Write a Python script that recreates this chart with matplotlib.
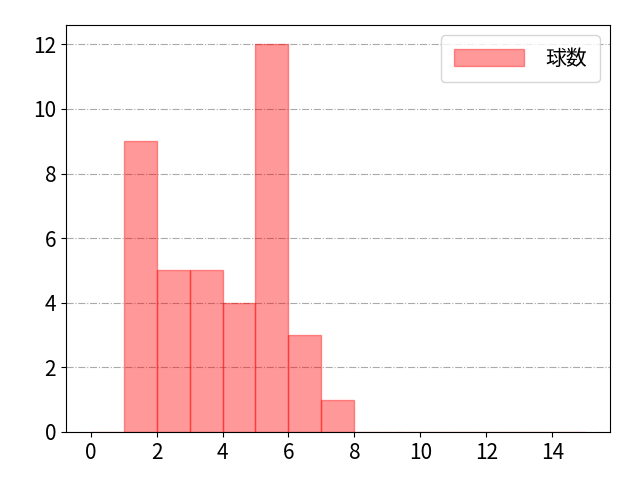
import matplotlib
matplotlib.use("Agg")
import matplotlib.pyplot as plt
import numpy as np

plt.rcParams['font.family'] = ['Noto Sans CJK JP', 'DejaVu Sans']

bin_edges = list(range(0, 16))
counts = [0, 9, 5, 5, 4, 12, 3, 1, 0, 0, 0, 0, 0, 0, 0]
label = "球数"

fig, ax = plt.subplots(figsize=(6.4, 4.8), dpi=100)
ax.hist(bin_edges[:-1], bins=bin_edges, weights=counts, color='red', alpha=0.4,
        edgecolor='red', linewidth=1, label=label)
ax.grid(axis='y', linestyle='-.', color='#aaaaaa', linewidth=0.8)
ax.set_axisbelow(True)
ax.set_xticks([0, 2, 4, 6, 8, 10, 12, 14])
ax.set_yticks([0, 2, 4, 6, 8, 10, 12])
ax.tick_params(labelsize=15)
ax.legend(fontsize=15, loc='upper right', handlelength=3.4, handleheight=0.9,
          borderpad=0.6, handletextpad=1.0)
fig.subplots_adjust(left=0.103, right=0.953, top=0.948, bottom=0.1)
fig.savefig("out.png")
